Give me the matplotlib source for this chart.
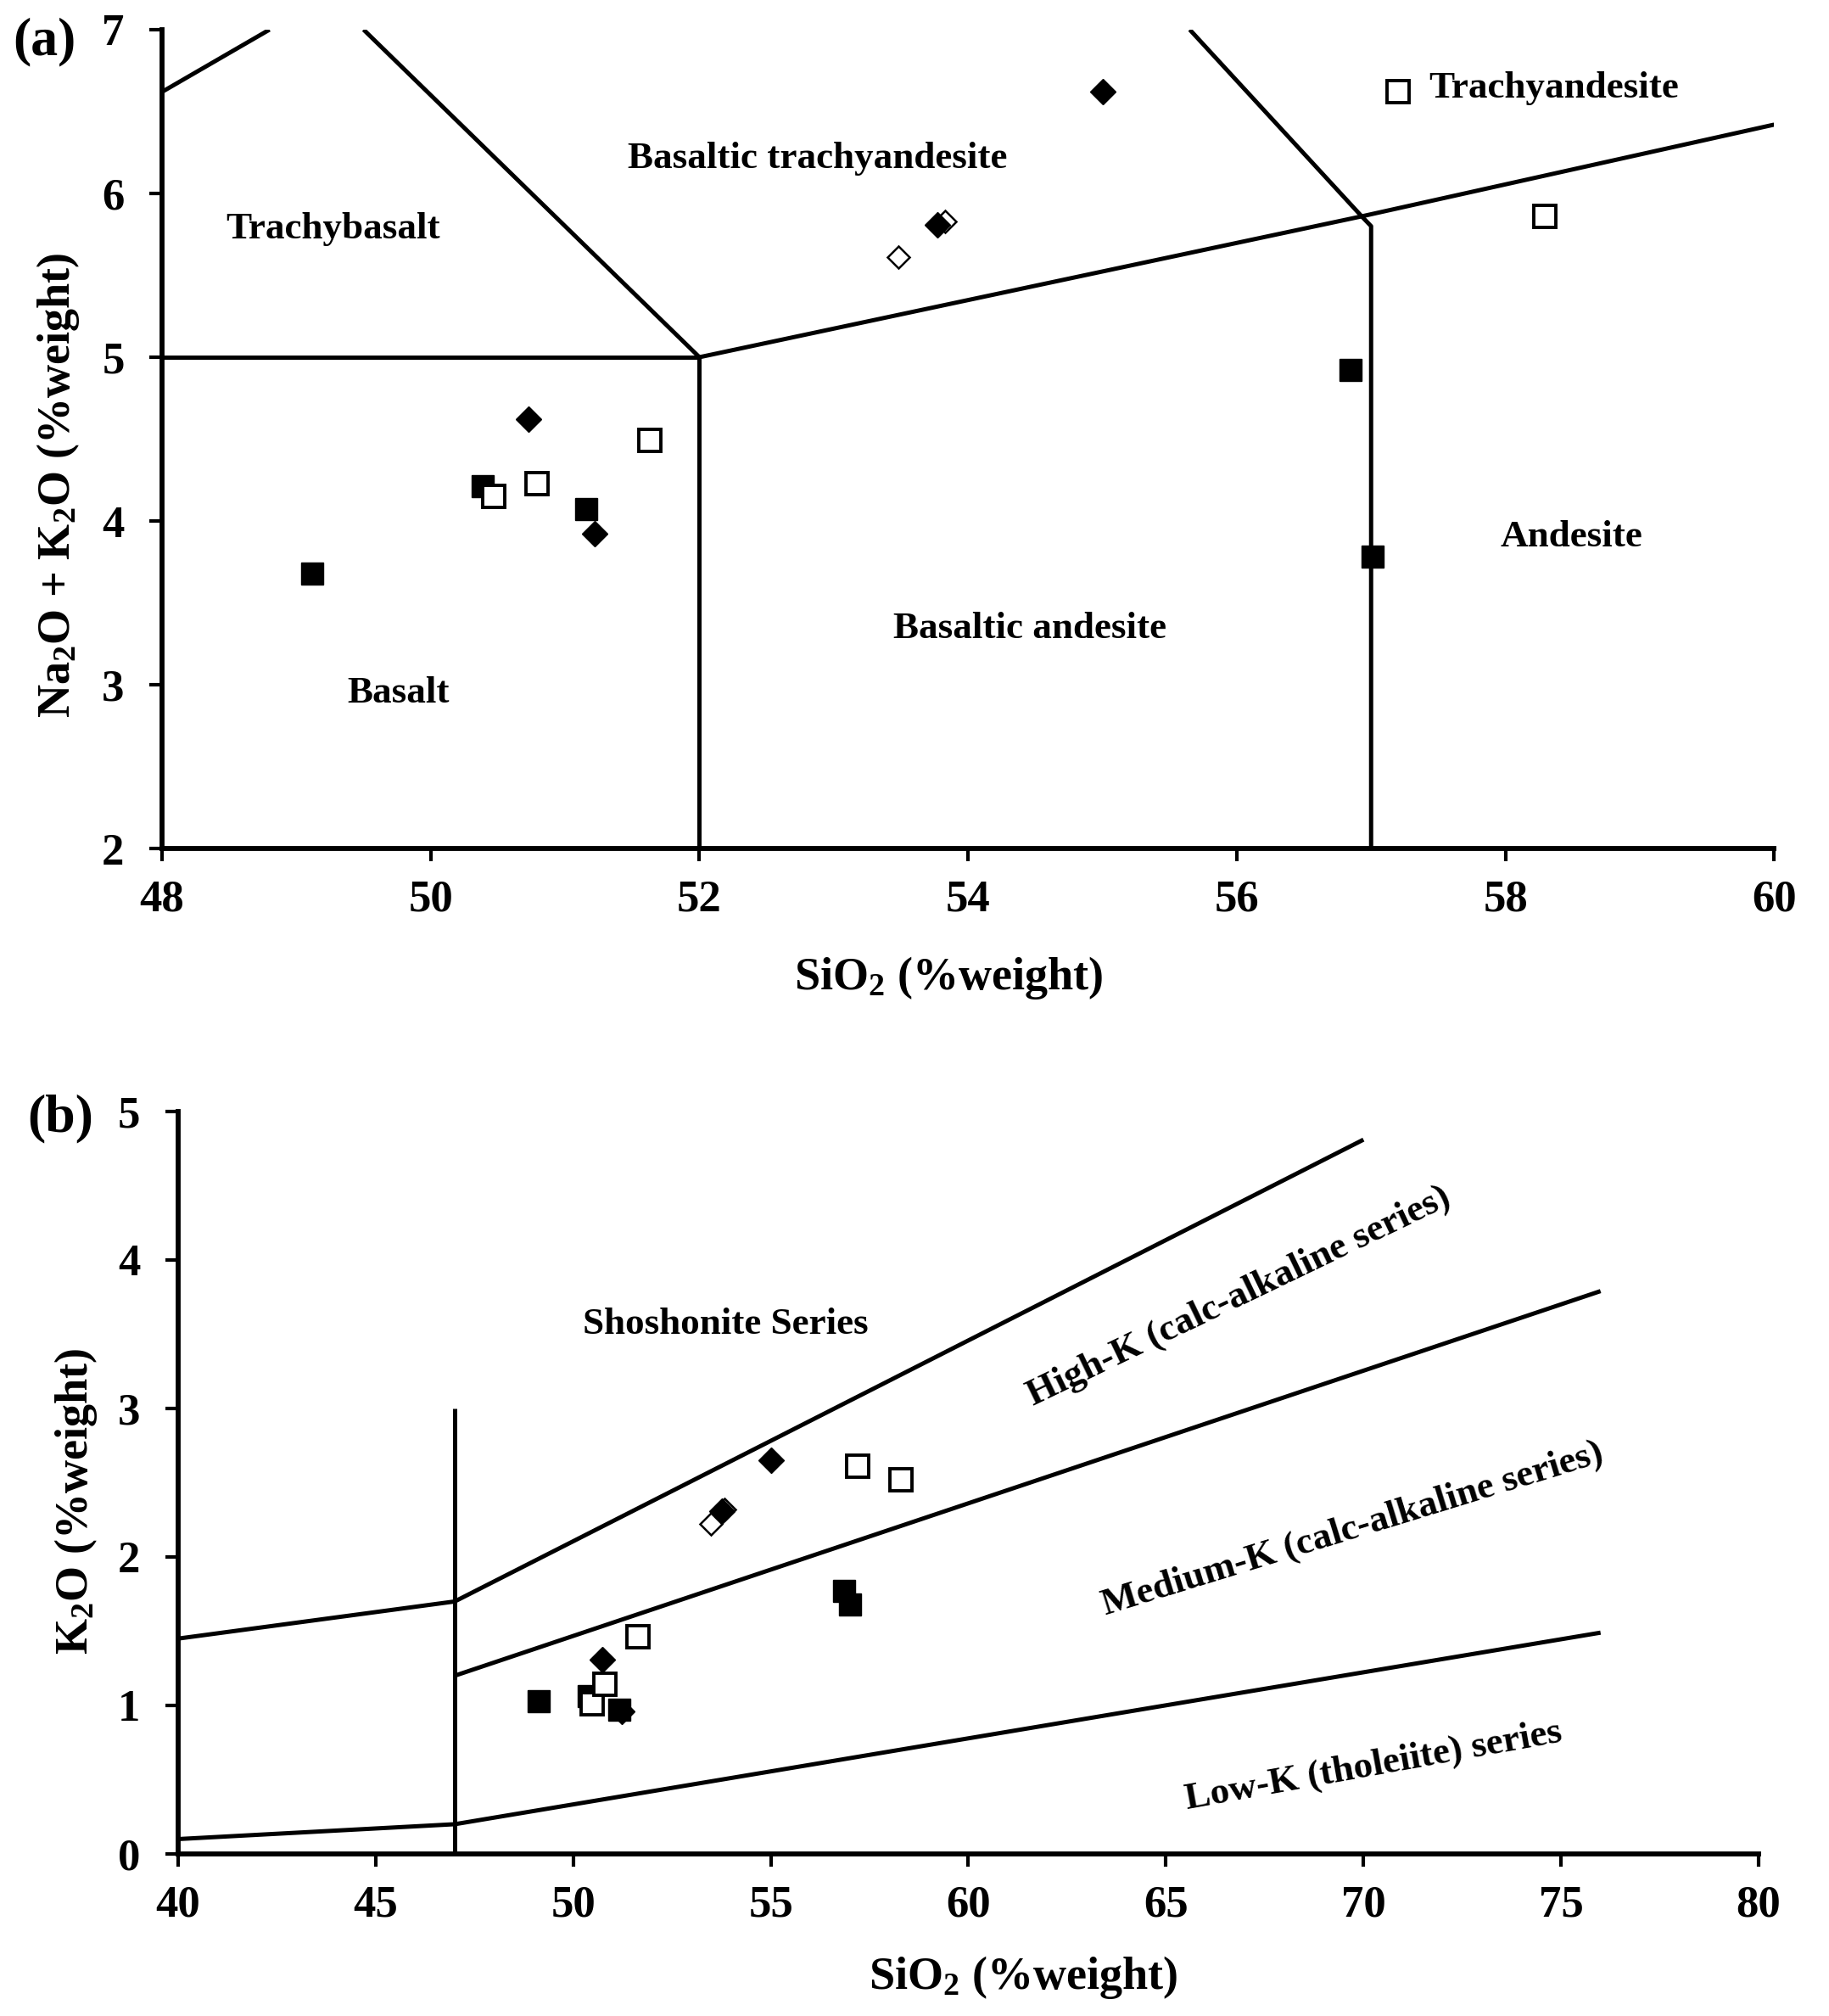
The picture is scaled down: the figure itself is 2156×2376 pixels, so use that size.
import matplotlib
matplotlib.use("Agg")
import matplotlib.pyplot as plt

plt.rcParams["font.family"] = ["Liberation Serif", "DejaVu Serif"]
plt.rcParams["font.weight"] = "bold"
plt.rcParams["mathtext.fontset"] = "custom"
plt.rcParams["mathtext.rm"] = "Liberation Serif:bold"
plt.rcParams["mathtext.it"] = "Liberation Serif:bold"
plt.rcParams["mathtext.bf"] = "Liberation Serif:bold"

# ---- sample data (SiO2, Na2O+K2O, K2O) ----
fsq_si = [49.12, 50.39, 51.16, 56.85, 57.01]
fsq_alk = [3.68, 4.21, 4.07, 4.92, 3.78]
fsq_k = [1.03, 1.06, 0.97, 1.77, 1.68]

osq_si = [50.47, 50.79, 51.63, 57.20, 58.29]
osq_alk = [4.15, 4.23, 4.49, 6.62, 5.86]
osq_k = [1.01, 1.14, 1.46, 2.61, 2.52]

fdi_si = [50.73, 51.22, 53.77, 55.00]
fdi_alk = [4.62, 3.92, 5.81, 6.62]
fdi_k = [1.31, 0.96, 2.31, 2.65]

odi_si = [53.48, 53.83]
odi_alk = [5.61, 5.83]
odi_k = [2.22, 2.32]

# ---- TAS boundaries (panel a) ----
tas_lines = [
    ([48.0, 48.8], [6.62, 7.0]),
    ([49.5, 52.0], [7.0, 5.0]),
    ([48.0, 52.0, 52.0], [5.0, 5.0, 2.0]),
    ([52.0, 56.93, 60.0], [5.0, 5.86, 6.42]),
    ([55.65, 56.93, 57.0, 57.0], [7.0, 5.86, 5.80, 2.0]),
]
tas_names = ["Trachybasalt", "Basaltic trachyandesite", "Trachyandesite",
             "Basalt", "Basaltic andesite", "Andesite"]
tas_x = [49.27, 52.88, 58.36, 49.76, 54.46, 58.49]
tas_y = [5.78, 6.21, 6.64, 2.95, 3.34, 3.90]

# ---- K2O-SiO2 boundaries (panel b) ----
k_lines = [
    ([47.0, 47.0], [0.0, 3.0]),
    ([40.0, 47.0, 70.0], [1.45, 1.70, 4.81]),
    ([47.0, 76.0], [1.20, 3.79]),
    ([40.0, 47.0, 76.0], [0.10, 0.20, 1.49]),
]
k_names = ["Shoshonite Series", "High-K (calc-alkaline series)",
           "Medium-K (calc-alkaline series)", "Low-K (tholeiite) series"]
k_x = [53.85, 66.95, 69.8, 70.3]
k_y = [3.50, 3.70, 2.13, 0.53]
k_rot = [0, 25.7, 17.1, 10.2]

LW = 3.6
TXT = 32.5


def style_axes(ax):
    for s in ["top", "right"]:
        ax.spines[s].set_visible(False)
    for s in ["left", "bottom"]:
        ax.spines[s].set_linewidth(4.2)
    ax.tick_params(direction="out", length=11, width=3, labelsize=38)
    ax.tick_params(axis="x", pad=15)
    ax.tick_params(axis="y", pad=21)
    for lab in ax.get_xticklabels() + ax.get_yticklabels():
        lab.set_fontweight("bold")


def draw_points(ax, yf, yo, yd, yod):
    ax.plot(fsq_si, yf, "s", ms=18.5, color="black", mec="black", mew=1, zorder=5, clip_on=False)
    ax.plot(osq_si, yo, "s", ms=18.5, mfc="white", mec="black", mew=2.8, zorder=5, clip_on=False)
    ax.plot(odi_si, yod, "D", ms=13.5, mfc="white", mec="black", mew=1.8, zorder=4, clip_on=False)
    ax.plot(fdi_si, yd, "D", ms=15, color="black", mec="black", mew=1, zorder=5, clip_on=False)


fig = plt.figure(figsize=(21.56, 23.76), dpi=100)

# (a) TAS diagram
ax1 = fig.add_axes([0.0886, 0.5791, 0.9700 - 0.0886, 0.9853 - 0.5791])
for xs, ys in tas_lines:
    ax1.plot(xs, ys, color="black", lw=LW, solid_capstyle="butt")
draw_points(ax1, fsq_alk, osq_alk, fdi_alk, odi_alk)
for name, x, y in zip(tas_names, tas_x, tas_y):
    ax1.text(x, y, name, fontsize=TXT, fontweight="bold", ha="center", va="center")
ax1.set_xlim(48, 60)
ax1.set_ylim(2, 7)
ax1.set_xticks(range(48, 61, 2))
ax1.set_yticks(range(2, 8))
style_axes(ax1)

# (b) K2O vs SiO2
ax2 = fig.add_axes([0.0974, 0.0804, 0.9615 - 0.0974, 0.4487 - 0.0804])
for xs, ys in k_lines:
    ax2.plot(xs, ys, color="black", lw=LW, solid_capstyle="butt")
draw_points(ax2, fsq_k, osq_k, fdi_k, odi_k)
for name, x, y, r in zip(k_names, k_x, k_y, k_rot):
    ax2.text(x, y, name, fontsize=TXT, fontweight="bold", ha="center", va="baseline",
             rotation=r, rotation_mode="anchor")
ax2.set_xlim(40, 80)
ax2.set_ylim(0, 5)
ax2.set_xticks(range(40, 81, 5))
ax2.set_yticks(range(0, 6))
style_axes(ax2)

# axis titles and panel letters
lab = dict(fontsize=39, fontweight="bold", ha="center", va="baseline", rotation_mode="anchor")
fig.text(0.5186, 0.5093, r"SiO$_2$ (%weight)", **lab)
fig.text(0.038, 0.7593, r"Na$_2$O + K$_2$O (%weight)", rotation=90, **lab)
fig.text(0.5594, 0.0135, r"SiO$_2$ (%weight)", **lab)
fig.text(0.0478, 0.2555, r"K$_2$O (%weight)", rotation=90, **lab)
fig.text(0.0245, 0.979, "(a)", fontsize=46, fontweight="bold", ha="center", va="center")
fig.text(0.0332, 0.4453, "(b)", fontsize=46, fontweight="bold", ha="center", va="center")

fig.savefig("out.png", dpi=100)
